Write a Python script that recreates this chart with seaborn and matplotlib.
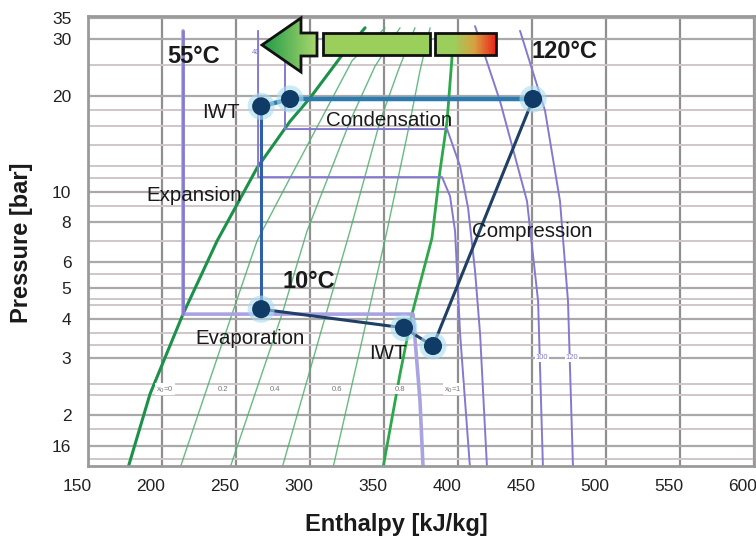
import numpy as np
import matplotlib
matplotlib.use("Agg")
import matplotlib.pyplot as plt
from matplotlib.patches import Polygon, Rectangle
from matplotlib.colors import LinearSegmentedColormap
from matplotlib.ticker import FixedLocator, NullFormatter
from matplotlib.transforms import ScaledTranslation
import seaborn as sns

sns.set_style("white")
plt.rcParams['font.family'] = ['Liberation Sans', 'DejaVu Sans']

# --- background chart: saturation / quality lines (enthalpy kJ/kg, pressure bar)
liquid_h = [177.0, 191.9, 214.2, 237.2, 264.2, 286.5, 300.0, 322.3, 337.2]
liquid_p = [1.36, 2.32, 4.13, 7.0, 11.86, 16.6, 19.65, 27.0, 32.6]
vapor_h = [349.3, 360.8, 368.9, 382.4, 387.8, 392.6, 395.9, 394.6]
vapor_p = [1.36, 2.68, 4.13, 7.15, 11.6, 16.6, 26.2, 30.7]
q02_h = [212.2, 247.3, 264.2, 287.2, 306.8, 328.4, 350.7]
q02_p = [1.36, 4.13, 7.0, 11.19, 16.6, 25.7, 32.6]
q04_h = [245.9, 281.1, 298.0, 327.0, 343.9, 360.8]
q04_p = [1.36, 4.13, 7.52, 16.6, 24.7, 32.6]
q06_h = [281.1, 310.8, 327.0, 347.3, 359.5, 370.9]
q06_p = [1.36, 4.13, 7.52, 16.6, 23.9, 32.6]
q08_h = [315.5, 339.2, 352.0, 367.6, 374.3, 381.1]
q08_p = [1.36, 4.13, 7.52, 16.6, 23.9, 32.6]

# isotherms
t10_h = [214.2, 214.2, 369.6, 374.3, 376.4]
t10_p = [31.9, 4.13, 4.13, 2.21, 1.36]
t40_h = [264.9, 264.9, 389.2, 394.6, 398.0, 401.4, 408.1]
t40_p = [31.9, 11.1, 11.1, 9.68, 7.52, 3.58, 1.36]
t55_h = [283.1, 283.1, 392.6, 401.4, 406.8, 411.5, 414.9, 419.6]
t55_p = [31.2, 15.7, 15.7, 12.0, 8.88, 5.64, 3.58, 1.36]
t100_h = [411.5, 428.4, 446.6, 454.1, 457.4]
t100_p = [33.0, 19.2, 9.34, 4.54, 1.36]
t120_h = [441.9, 458.8, 468.9, 474.3, 477.7]
t120_p = [31.9, 17.9, 9.34, 4.54, 1.36]

quality_labels = ["x$_0$=0", "0.2", "0.4", "0.6", "0.8", "x$_0$=1"]
quality_label_h = [202.0, 241.2, 276.4, 318.2, 360.8, 396.6]
quality_label_p = 2.40

# --- heat pump cycle
evap_h = [267.0, 363.5, 383.1]
evap_p = [4.28, 3.74, 3.28]
comp_h = [383.1, 450.7]
comp_p = [3.28, 19.5]
cond_h = [450.7, 286.5, 267.0]
cond_p = [19.5, 19.5, 18.5]
exp_h = [267.0, 267.0]
exp_p = [18.5, 4.28]
state_h = [267.0, 286.5, 450.7, 267.0, 363.5, 383.1]
state_p = [18.5, 19.5, 19.5, 4.28, 3.74, 3.28]

x_ticks = [150, 200, 250, 300, 350, 400, 450, 500, 550, 600]
y_ticks = [1.6, 2, 3, 4, 5, 6, 8, 10, 20, 30, 35]
y_ticklabels = ["16", "2", "3", "4", "5", "6", "8", "10", "20", "30", "35"]
y_minor = [1.45, 1.8, 2.3, 2.5, 3.3, 3.6, 4.4, 4.6, 5.5, 7, 9, 11, 12, 14, 16, 18, 25]

fig = plt.figure(figsize=(7.56, 5.37), dpi=100)
ax = fig.add_axes([0.1164, 0.1322, 0.8810, 0.8380])
ax.set_yscale('log')
ax.set_xlim(150, 600)
ax.set_ylim(1.38, 35.5)

ax.xaxis.set_major_locator(FixedLocator(x_ticks))
ax.yaxis.set_major_locator(FixedLocator(y_ticks))
ax.set_yticklabels(y_ticklabels)
ax.yaxis.set_minor_locator(FixedLocator(y_minor))
ax.yaxis.set_minor_formatter(NullFormatter())
ax.grid(True, which='major', axis='x', color='#8f8f8f', lw=1.6)
ax.grid(True, which='major', axis='y', color='#a9a9a9', lw=1.6)
ax.grid(True, which='minor', axis='y', color='#cfc6c9', lw=1.4)
ax.set_axisbelow(True)
ax.tick_params(axis='both', which='both', length=0, labelsize=12.5, colors='#222222')
ax.tick_params(axis='x', pad=9)
ax.tick_params(axis='y', pad=12)
for s in ax.spines.values():
    s.set_color('#9a9a9a')
    s.set_linewidth(2)

offset = ScaledTranslation(-0.11, 0, fig.dpi_scale_trans)
for lab in ax.get_xticklabels():
    lab.set_transform(lab.get_transform() + offset)

# background chart curves
for hh, pp in [(q02_h, q02_p), (q04_h, q04_p), (q06_h, q06_p), (q08_h, q08_p)]:
    sns.lineplot(x=hh, y=pp, sort=False, estimator=None, ax=ax, color='#4caf6e', lw=1.0, alpha=0.85)
sns.lineplot(x=liquid_h, y=liquid_p, sort=False, estimator=None, ax=ax, color='#1b9149', lw=2.2)
sns.lineplot(x=vapor_h, y=vapor_p, sort=False, estimator=None, ax=ax, color='#2aa84a', lw=2.0)
sns.lineplot(x=t10_h, y=t10_p, sort=False, estimator=None, ax=ax, color='#aaa3e2', lw=2.6)
sns.lineplot(x=t10_h[:2], y=t10_p[:2], sort=False, estimator=None, ax=ax, color='#8479d1', lw=1.8)
for hh, pp in [(t40_h, t40_p), (t55_h, t55_p), (t100_h, t100_p), (t120_h, t120_p)]:
    sns.lineplot(x=hh, y=pp, sort=False, estimator=None, ax=ax, color='#8479d1', lw=1.4)

for lab, hh in zip(quality_labels, quality_label_h):
    ax.text(hh, quality_label_p, lab, fontsize=5.5, color='#777777', ha='center', va='center',
            bbox=dict(facecolor='white', edgecolor='none', pad=0.6))
ax.text(456.8, 3.01, "100", fontsize=5.5, color='#8479d1', ha='center', va='center',
        bbox=dict(facecolor='white', edgecolor='none', pad=0.6))
ax.text(477.0, 3.01, "120", fontsize=5.5, color='#8479d1', ha='center', va='center',
        bbox=dict(facecolor='white', edgecolor='none', pad=0.6))
ax.text(263.5, 27.2, "40", fontsize=5.5, color='#8479d1', ha='center', va='center')

# cycle
sns.lineplot(x=evap_h, y=evap_p, sort=False, estimator=None, ax=ax, color='#1f3f66', lw=2.2)
sns.lineplot(x=comp_h, y=comp_p, sort=False, estimator=None, ax=ax, color='#1f3f66', lw=2.2)
sns.lineplot(x=cond_h, y=cond_p, sort=False, estimator=None, ax=ax, color='#2b7bb0', lw=3.2)
sns.lineplot(x=exp_h, y=exp_p, sort=False, estimator=None, ax=ax, color='#2f5fa8', lw=2.2)
sns.scatterplot(x=state_h, y=state_p, ax=ax, s=380, color='#a8dcf0', alpha=0.6, edgecolor='none', zorder=5)
sns.scatterplot(x=state_h, y=state_p, ax=ax, s=170, color='#0f3b66', edgecolor='none', zorder=6)

txt = dict(fontsize=14.8, color='#1a1a1a', ha='center', va='baseline', zorder=8)
ax.text(239.9, 17.0, "IWT", **txt)
ax.text(353.4, 16.05, "Condensation", **txt)
ax.text(222.0, 9.34, "Expansion", **txt)
ax.text(450.0, 7.20, "Compression", **txt)
ax.text(259.8, 3.33, "Evaporation", **txt)
ax.text(352.4, 2.99, "IWT", **txt)
bold = dict(fontsize=17, fontweight='bold', color='#1a1a1a', ha='center', va='baseline', zorder=8)
ax.text(221.6, 25.3, "55°C", **bold)
ax.text(471.6, 26.2, "120°C", **bold)
ax.text(299.3, 4.99, "10°C", **bold)

ax.set_xlabel("")
ax.set_ylabel("")
fig.text(396 / 756, 6 / 537, "Enthalpy [kJ/kg]", fontsize=17, fontweight='bold',
         ha='center', va='baseline', color='#1a1a1a')
fig.text(22 / 756, 1 - 243 / 537, "Pressure [bar]", fontsize=17, fontweight='bold',
         ha='center', va='center', rotation=90, color='#1a1a1a')

# arrow + bars decoration (pixel space overlay)
deco = fig.add_axes([0, 0, 1, 1], zorder=10)
deco.set_xlim(0, 756)
deco.set_ylim(537, 0)
deco.axis('off')


def gradient_fill(clip, x0, x1, y0, y1, cmap, n=80):
    w = (x1 - x0) / n
    for i, c in enumerate(cmap(np.linspace(0, 1, n))):
        r = Rectangle((x0 + i * w, y0), w * 1.3, y1 - y0, facecolor=c, edgecolor='none', zorder=9)
        deco.add_patch(r)
        r.set_clip_path(clip)


arrow_xy = [(262, 45), (301, 18), (301, 33), (317, 33), (317, 56), (301, 56), (301, 72)]
arrow = Polygon(arrow_xy, closed=True, facecolor='none', edgecolor='#111111', lw=2, zorder=11)
deco.add_patch(arrow)
gradient_fill(arrow, 262, 317, 18, 72, LinearSegmentedColormap.from_list('ga', ['#1e9a48', '#a8d66c']))

deco.add_patch(Rectangle((323, 33), 107, 22, facecolor='#9bcf5c', edgecolor='#111111', lw=2, zorder=11))

bar2 = Rectangle((435, 33), 61, 22, facecolor='none', edgecolor='#111111', lw=2, zorder=11)
deco.add_patch(bar2)
g_bar = LinearSegmentedColormap.from_list('gb', [(0, '#9bcf5c'), (0.3, '#9bcf5c'),
                                                 (0.65, '#d8a040'), (1, '#ec2418')])
gradient_fill(bar2, 435, 496, 33, 55, g_bar)

fig.savefig("out.png", dpi=100)
